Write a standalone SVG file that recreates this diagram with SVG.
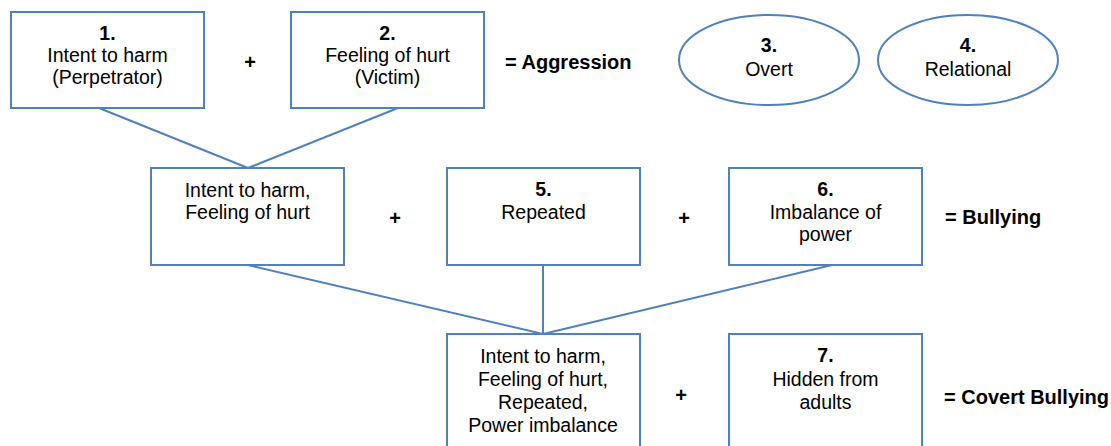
<svg xmlns="http://www.w3.org/2000/svg" width="1111" height="446" viewBox="0 0 1111 446">
<style>
.box{fill:#fff;stroke:#4f81bd;stroke-width:2}
.ln{fill:none;stroke:#4f81bd;stroke-width:2}
text{font-family:"Liberation Sans",Arial,sans-serif;fill:#000}
.t{font-size:19.5px;text-anchor:middle}
.n{font-size:19.5px;font-weight:bold;text-anchor:middle}
.eq{font-size:20px;font-weight:bold}
.plus{font-size:20px;font-weight:bold;text-anchor:middle}
</style>
<rect width="1111" height="446" fill="#fff"/>
<g id="connectors">
<line class="ln" x1="99" y1="108" x2="248" y2="168"/>
<line class="ln" x1="398" y1="108" x2="248" y2="168"/>
<line class="ln" x1="248" y1="265" x2="543" y2="334"/>
<line class="ln" x1="543" y1="265" x2="543" y2="334"/>
<line class="ln" x1="832" y1="265" x2="543" y2="334"/>
</g>
<g id="n1">
<rect class="box" x="11" y="12" width="193" height="96"/>
<text class="n" x="107.5" y="40">1.</text>
<text class="t" x="107.5" y="62">Intent to harm</text>
<text class="t" x="107.5" y="84">(Perpetrator)</text>
</g>
<g id="plus1"><text class="plus" x="250" y="69">+</text></g>
<g id="n2">
<rect class="box" x="291" y="12" width="193" height="96"/>
<text class="n" x="387.5" y="40">2.</text>
<text class="t" x="387.5" y="62">Feeling of hurt</text>
<text class="t" x="387.5" y="84">(Victim)</text>
</g>
<g id="aggression"><text class="eq" x="505" y="69">= Aggression</text></g>
<g id="n3">
<ellipse class="box" cx="769" cy="60" rx="90" ry="45"/>
<text class="n" x="769" y="52">3.</text>
<text class="t" x="769" y="76">Overt</text>
</g>
<g id="n4">
<ellipse class="box" cx="968" cy="60" rx="90" ry="45"/>
<text class="n" x="968" y="52">4.</text>
<text class="t" x="968" y="76">Relational</text>
</g>
<g id="nA">
<rect class="box" x="151" y="168" width="193" height="97"/>
<text class="t" x="247.5" y="197">Intent to harm,</text>
<text class="t" x="247.5" y="219">Feeling of hurt</text>
</g>
<g id="plus2"><text class="plus" x="395" y="225">+</text></g>
<g id="n5">
<rect class="box" x="447" y="168" width="193" height="97"/>
<text class="n" x="543.5" y="196">5.</text>
<text class="t" x="543.5" y="219">Repeated</text>
</g>
<g id="plus3"><text class="plus" x="684" y="225">+</text></g>
<g id="n6">
<rect class="box" x="729" y="168" width="193" height="97"/>
<text class="n" x="825.5" y="196">6.</text>
<text class="t" x="825.5" y="219">Imbalance of</text>
<text class="t" x="825.5" y="241">power</text>
</g>
<g id="bullying"><text class="eq" x="945" y="224">= Bullying</text></g>
<g id="nB">
<rect class="box" x="447" y="334" width="193" height="130"/>
<text class="t" x="543" y="363">Intent to harm,</text>
<text class="t" x="543" y="386">Feeling of hurt,</text>
<text class="t" x="543" y="409">Repeated,</text>
<text class="t" x="543" y="432">Power imbalance</text>
</g>
<g id="plus4"><text class="plus" x="681" y="402">+</text></g>
<g id="n7">
<rect class="box" x="729" y="334" width="193" height="130"/>
<text class="n" x="825.5" y="362">7.</text>
<text class="t" x="825.5" y="386">Hidden from</text>
<text class="t" x="825.5" y="409">adults</text>
</g>
<g id="covert"><text class="eq" x="944" y="404">= Covert Bullying</text></g>
</svg>
